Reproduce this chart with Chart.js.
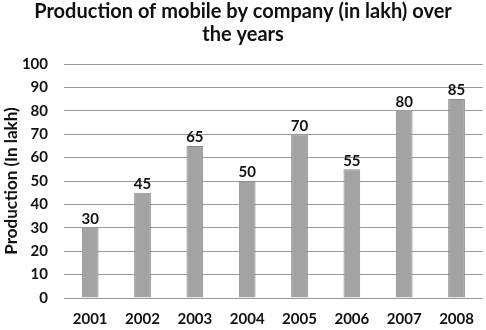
<!DOCTYPE html>
<html>
<head>
<meta charset="utf-8">
<script src="https://cdn.jsdelivr.net/npm/chart.js@4"></script>
<style>
  html, body { margin: 0; padding: 0; background: #fff; }
  #wrap { width: 486px; height: 330px; }
</style>
</head>
<body>
<div id="wrap"><canvas id="chart" width="486" height="330"></canvas></div>
<script>
const years = ["2001", "2002", "2003", "2004", "2005", "2006", "2007", "2008"];
const production = [30, 45, 65, 50, 70, 55, 80, 85];
const yTicks = [0, 10, 20, 30, 40, 50, 60, 70, 80, 90, 100];

const FONT = "Lato, 'Open Sans', sans-serif";

// draws the value above each bar
const valueLabels = {
  id: "valueLabels",
  afterDatasetsDraw(chart) {
    const ctx = chart.ctx;
    const meta = chart.getDatasetMeta(0);
    ctx.save();
    ctx.font = "bold 15px " + FONT;
    ctx.fillStyle = "#111";
    ctx.textAlign = "center";
    ctx.textBaseline = "bottom";
    meta.data.forEach((bar, i) => {
      ctx.fillText(production[i], bar.x, bar.y - 1);
    });
    ctx.restore();
  }
};

new Chart(document.getElementById("chart"), {
  type: "bar",
  data: {
    labels: years,
    datasets: [{
      data: production,
      backgroundColor: "#a3a3a3",
      borderColor: "#8a8a8a",
      borderWidth: 1,
      categoryPercentage: 1,
      barPercentage: 0.32
    }]
  },
  options: {
    responsive: false,
    animation: false,
    layout: { padding: { left: 1, right: 1, top: 0, bottom: 0 } },
    plugins: {
      legend: { display: false },
      tooltip: { enabled: false },
      title: {
        display: true,
        text: ["Production of mobile by company (in lakh) over", "the years"],
        color: "#111",
        font: { family: FONT, size: 20, weight: "bold", lineHeight: 1.15 },
        padding: { top: 0, bottom: 18 }
      }
    },
    scales: {
      x: {
        afterFit(scale) { scale.height = 32; },
        grid: { display: false, drawTicks: false },
        border: { display: false },
        ticks: { color: "#111", font: { family: FONT, size: 15, weight: "bold" }, padding: 12 }
      },
      y: {
        min: 0,
        max: 100,
        afterFit(scale) { scale.width = 63; },
        afterBuildTicks(axis) { axis.ticks = yTicks.map(v => ({ value: v })); },
        grid: { color: "#9a9a9a", drawTicks: false },
        border: { display: false },
        ticks: { color: "#111", font: { family: FONT, size: 15, weight: "bold" }, padding: 16 },
        title: {
          display: true,
          text: "Production (In lakh)",
          color: "#111",
          font: { family: FONT, size: 17, weight: "bold" },
          padding: { top: 0, bottom: 4 }
        }
      }
    }
  },
  plugins: [valueLabels]
});
</script>
</body>
</html>
